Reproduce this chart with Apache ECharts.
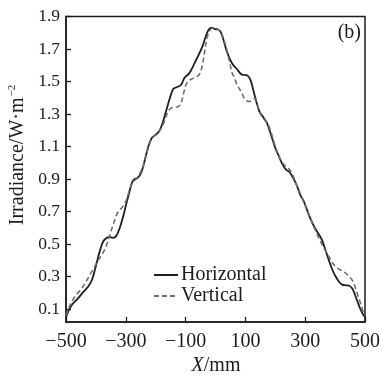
<!DOCTYPE html>
<html>
<head>
<meta charset="utf-8">
<script src="https://cdn.jsdelivr.net/npm/echarts@6/dist/echarts.min.js"></script>
<style>
html,body{margin:0;padding:0;background:#fff;}
#chart{width:383px;height:376px;}
</style>
</head>
<body>
<div id="chart"></div>
<script>
// Horizontal profile (solid)
const hX = [-500,-490,-476,-460,-442,-425,-412,-400,-388,-377,-366,-355,-343,-332,-320,-309,-298,-288,-280,-272,-262,-252,-242,-232,-222,-212,-200,-188,-176,-165,-153,-141,-128,-115,-103,-88,-72,-56,-44,-32,-22,-12,-2,8,16,26,36,47,58,70,86,98,108,117,126,136,147,160,172,186,200,212,224,236,247,260,272,284,296,308,320,332,344,356,369,380,391,402,413,424,436,447,458,468,478,488,500];
const hY = [0.05,0.095,0.135,0.165,0.205,0.24,0.285,0.365,0.45,0.51,0.535,0.543,0.538,0.55,0.6,0.668,0.75,0.82,0.875,0.898,0.905,0.925,0.975,1.05,1.115,1.155,1.172,1.195,1.25,1.32,1.395,1.455,1.466,1.48,1.525,1.55,1.605,1.665,1.715,1.78,1.822,1.832,1.822,1.82,1.81,1.76,1.695,1.643,1.605,1.58,1.545,1.54,1.535,1.51,1.45,1.38,1.315,1.28,1.245,1.17,1.09,1.04,0.99,0.958,0.943,0.905,0.86,0.8,0.76,0.7,0.645,0.6,0.565,0.525,0.455,0.395,0.34,0.3,0.268,0.25,0.246,0.243,0.225,0.18,0.13,0.085,0.05];
// Vertical profile (dashed)
const vX = [-500,-490,-476,-462,-448,-434,-420,-406,-392,-378,-365,-353,-342,-331,-320,-310,-298,-288,-278,-266,-254,-242,-230,-218,-206,-194,-182,-170,-160,-150,-138,-125,-115,-105,-95,-80,-65,-52,-42,-35,-28,-20,-10,0,10,19,28,36,47,56,63,72,80,89,97,106,115,124,132,141,152,164,176,188,200,213,224,236,247,258,270,284,297,310,322,334,346,358,369,380,391,402,413,425,436,447,458,467,476,485,493,500];
const vY = [0.06,0.11,0.16,0.195,0.225,0.265,0.31,0.355,0.4,0.44,0.49,0.56,0.62,0.68,0.71,0.73,0.77,0.83,0.875,0.9,0.93,0.98,1.06,1.13,1.165,1.185,1.21,1.26,1.31,1.335,1.342,1.345,1.37,1.44,1.495,1.515,1.525,1.55,1.62,1.7,1.77,1.81,1.83,1.828,1.818,1.8,1.755,1.71,1.62,1.55,1.525,1.48,1.455,1.425,1.395,1.38,1.377,1.39,1.395,1.35,1.295,1.265,1.235,1.175,1.1,1.037,1.0,0.975,0.96,0.925,0.87,0.81,0.75,0.69,0.635,0.585,0.535,0.49,0.455,0.42,0.385,0.36,0.345,0.333,0.32,0.3,0.275,0.235,0.185,0.135,0.09,0.06];
const xTicks = [-500,-300,-100,100,300,500];
const yTicks = [0.1,0.3,0.5,0.7,0.9,1.1,1.3,1.5,1.7,1.9];
const seriesNames = ['Horizontal','Vertical'];

const FONT = '"Liberation Serif","Times New Roman",serif';
const INK = '#1c1c1c';
const zip = (a,b) => a.map((v,i)=>[v,b[i]]);

const chart = echarts.init(document.getElementById('chart'), null, {renderer:'canvas'});
chart.setOption({
  animation: false,
  backgroundColor: '#fff',
  grid: {left: 66, right: 17.5, top: 16.5, bottom: 54, show: true, borderColor: INK, borderWidth: 1.5, backgroundColor: 'transparent'},
  xAxis: {
    type: 'value', min: -500, max: 500,
    axisLine: {show: true, onZero: false, lineStyle: {color: INK, width: 1.5}},
    axisTick: {show: true, inside: true, length: 5, customValues: xTicks, lineStyle: {color: INK, width: 1.3}},
    axisLabel: {customValues: xTicks, fontFamily: FONT, fontSize: 20, color: INK, margin: 10,
      formatter: v => String(v).replace('-', '\u2212')},
    splitLine: {show: false}
  },
  yAxis: {
    type: 'value', min: 0.02, max: 1.9,
    axisLine: {show: true, onZero: false, lineStyle: {color: INK, width: 1.5}},
    axisTick: {show: true, inside: true, length: 5, customValues: yTicks, lineStyle: {color: INK, width: 1.3}},
    axisLabel: {customValues: yTicks, fontFamily: FONT, fontSize: 17.5, color: INK, margin: 6,
      formatter: v => v.toFixed(1)},
    splitLine: {show: false}
  },
  legend: {
    orient: 'vertical', left: 148, top: 260, itemWidth: 24, itemHeight: 14, itemGap: 1,
    data: seriesNames,
    itemStyle: {opacity: 0},
    textStyle: {fontFamily: FONT, fontSize: 20, color: INK, padding: [0,0,0,-2]}
  },
  series: [
    {name: seriesNames[0], type: 'line', data: zip(hX,hY), smooth: 0.35, symbol: 'none',
     lineStyle: {color: '#1e1e1e', width: 1.8}, itemStyle: {color: '#1e1e1e'}},
    {name: seriesNames[1], type: 'line', data: zip(vX,vY), smooth: 0.35, symbol: 'none',
     lineStyle: {color: '#6e6e6e', width: 1.6, type: [5,3]}, itemStyle: {color: '#6e6e6e'}}
  ],
  graphic: [
    {type: 'text', x: 18, y: 155, rotation: Math.PI/2,
     style: {text: '{m|Irradiance/W·m}{s|\u22122}', align: 'center', verticalAlign: 'middle',
       rich: {m: {fontFamily: FONT, fontSize: 20, fill: INK, lineHeight: 22},
              s: {fontFamily: FONT, fontSize: 11, fill: INK, verticalAlign: 'top', lineHeight: 22, padding: [0,0,0,1]}}}},
    {type: 'text', x: 216, y: 366,
     style: {text: '{i|X}{m|/mm}', align: 'center', verticalAlign: 'middle',
       rich: {i: {fontFamily: FONT, fontSize: 20, fontStyle: 'italic', fill: INK},
              m: {fontFamily: FONT, fontSize: 20, fill: INK}}}},
    {type: 'text', x: 361, y: 33,
     style: {text: '(b)', align: 'right', verticalAlign: 'middle', fontFamily: FONT, fontSize: 20, fill: INK}}
  ]
});
</script>
</body>
</html>
